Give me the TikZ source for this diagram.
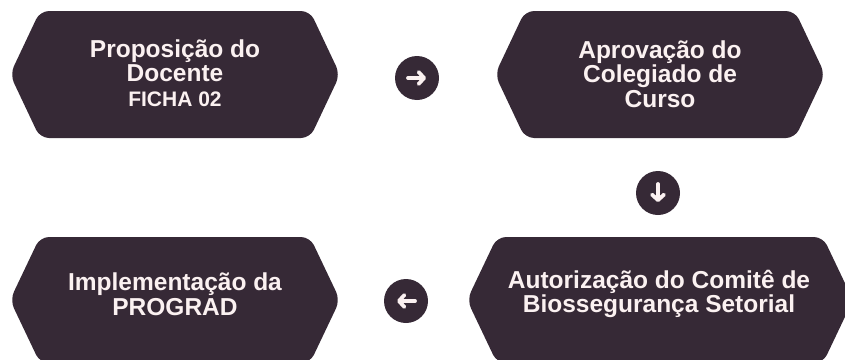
\documentclass[tikz,border=0pt]{standalone}
\usepackage{fontspec}
\setmainfont{Liberation Sans}
\usetikzlibrary{arrows.meta}
\definecolor{escuro}{HTML}{362936}
\definecolor{claro}{HTML}{FBF1F1}
\begin{document}
\begin{tikzpicture}[line cap=round,line join=round,>={Straight Barb[length=5.5pt,width=12pt,round]},x=1pt,y=-1pt]
	\tikzset{caixa/.style={fill=escuro,rounded corners=9pt},
		texto/.style={text=claro,align=center,font=\bfseries\fontsize{24.5}{24.5}\selectfont},
		bola/.style={circle,fill=escuro,minimum size=44pt,inner sep=0pt},
		seta/.style={->,draw=claro,line width=3.8pt}
	}
	\useasboundingbox (0,0) rectangle (845,359);
	\clip (0,0) rectangle (845,359);
	% etapas
	\fill[caixa] (10,74.5)--(40,11)--(310,11)--(340,74.5)--(310,138)--(40,138)--cycle;
	\fill[caixa] (495,74.5)--(525,11)--(795,11)--(825,74.5)--(795,138)--(525,138)--cycle;
	\fill[caixa] (467,300)--(497,237)--(823,237)--(853,300)--(823,363)--(497,363)--cycle;
	\fill[caixa] (10,300)--(40,237)--(310,237)--(340,300)--(310,363)--(40,363)--cycle;
	\node[texto] (docente) at (175,73) {Proposição do\\Docente\\{\fontsize{21}{24.5}\selectfont FICHA 02}};
	\node[texto] (colegiado) at (660,74) {Aprovação do\\Colegiado de\\Curso};
	\node[texto] (comite) at (659,294) {Autorização do Comitê de\\Biossegurança Setorial};
	\node[texto] (prograd) at (175,294) {Implementação da\\PROGRAD};
	% setas
	\node[bola] (p1) at (417,78) {};
	\node[bola] (p2) at (658,193) {};
	\node[bola] (p3) at (406,301) {};
	\draw[seta] ([xshift=-9pt]p1.center)--([xshift=9pt]p1.center);
	\draw[seta] ([yshift=9pt]p2.center)--([yshift=-9pt]p2.center);
	\draw[seta] ([xshift=9pt]p3.center)--([xshift=-9pt]p3.center);
\end{tikzpicture}
\end{document}
